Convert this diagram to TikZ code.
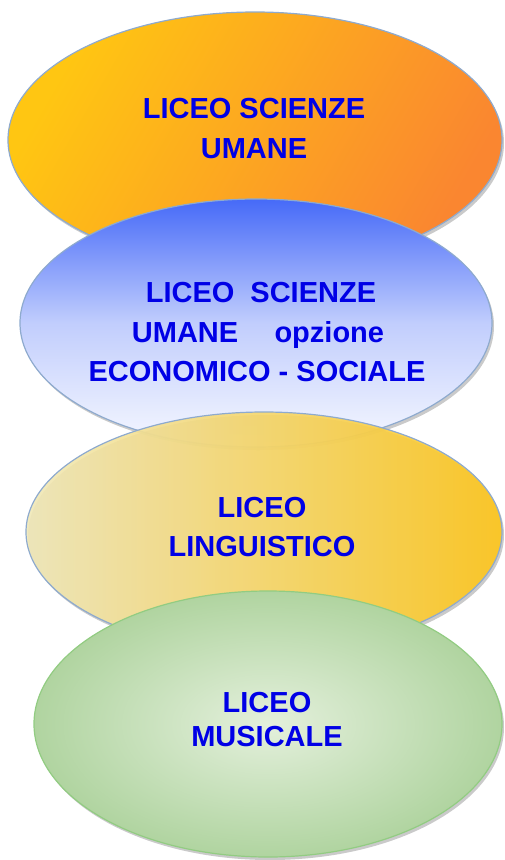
\documentclass[tikz,border=0pt]{standalone}
\usepackage{fontspec}
\setmainfont{Liberation Sans}
\usetikzlibrary{shapes.geometric}
\definecolor{txtblue}{RGB}{0,0,230}
\definecolor{edgeblue}{RGB}{142,170,206}
\definecolor{orA}{RGB}{255,198,18}
\definecolor{orB}{RGB}{250,134,48}
\definecolor{blA}{RGB}{70,106,248}
\definecolor{blB}{RGB}{246,248,255}
\definecolor{ylA}{RGB}{240,232,184}
\definecolor{ylB}{RGB}{255,198,24}
\definecolor{grA}{RGB}{228,240,220}
\definecolor{grB}{RGB}{176,212,160}
\definecolor{edgegreen}{RGB}{146,204,130}
\tikzset{
  oval/.style={ellipse, inner sep=0pt, line width=1.2pt},
  shadowoval/.style={ellipse, inner sep=0pt, fill=black!35, draw=none, opacity=0.6},
  label/.style={anchor=base, text=txtblue, font=\fontsize{29}{35}\selectfont\bfseries, inner sep=0pt}
}
\begin{document}
\begin{tikzpicture}[x=1pt, y=-1pt]
\useasboundingbox (0,0) rectangle (504,860);
% ellipse 1
\node[shadowoval, minimum width=494pt, minimum height=256pt] (s1) at (257,143) {};
\node[oval, minimum width=494pt, minimum height=256pt, draw=edgeblue,
  left color=orA, right color=orB, shading angle=60] (e1) at (255,140) {};
\node[label] (t1a) at (254,118) {LICEO SCIENZE};
\node[label] (t1b) at (254,158) {UMANE};
% ellipse 2
\node[shadowoval, minimum width=472pt, minimum height=248pt] (s2) at (258,326) {};
\node[oval, minimum width=472pt, minimum height=248pt, draw=edgeblue,
  top color=blA, bottom color=blB, middle color=blB!70!blA] (e2) at (256,323) {};
\node[label] (t2a) at (261,302) {LICEO\hspace{0.55em}SCIENZE};
\node[label] (t2b) at (258,342) {UMANE\hspace{1.25em}opzione};
\node[label] (t2c) at (257,381) {ECONOMICO - SOCIALE};
% ellipse 3
\node[shadowoval, minimum width=476pt, minimum height=240pt] (s3) at (266,535) {};
\node[oval, minimum width=476pt, minimum height=240pt, draw=edgeblue, fill opacity=0.9,
  left color=ylA, right color=ylB] (e3) at (264,532) {};
\node[label] (t3a) at (262,517) {LICEO};
\node[label] (t3b) at (262,556) {LINGUISTICO};
% ellipse 4
\node[shadowoval, minimum width=468pt, minimum height=266pt] (s4) at (270,727) {};
\node[oval, minimum width=468pt, minimum height=266pt, draw=edgegreen,
  shading=radial, inner color=grA, outer color=grB] (e4) at (268,724) {};
\node[label] (t4a) at (267,712) {LICEO};
\node[label] (t4b) at (267,746) {MUSICALE};
\end{tikzpicture}
\end{document}
